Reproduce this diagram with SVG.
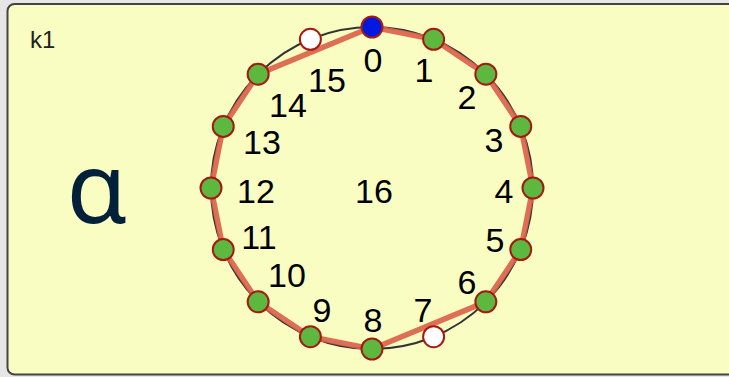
<svg xmlns="http://www.w3.org/2000/svg" width="729" height="377" viewBox="0 0 729 377">
<style>
.lbl{font-family:"Liberation Sans",Arial,sans-serif;font-size:34px;fill:#000;text-anchor:middle}
.pt{stroke:#a31a12;stroke-width:2}
.g{fill:#5cb83e}
.w{fill:#ffffff}
.b{fill:#0018e0}
</style>
<rect x="0" y="0" width="729" height="377" fill="#e6e6e6"/>
<rect id="frame" x="7.5" y="4" width="740" height="370.5" rx="7" fill="#fafdc2" stroke="#444" stroke-width="2"/>
<text id="k1" x="30" y="48" font-family="Liberation Sans,Arial,sans-serif" font-size="24" fill="#222">k1</text>
<text id="alpha" x="97" y="223" font-family="'Noto Sans','Open Sans',sans-serif" font-size="98" fill="#03203a" text-anchor="middle">α</text>
<g id="connectors">
<circle cx="372" cy="188" r="161" fill="none" stroke="#333" stroke-width="2"/>
<polygon points="372,27 433.61,39.26 485.84,74.16 520.74,126.39 533,188 520.74,249.61 485.84,301.84 372,349 310.39,336.74 258.16,301.84 223.26,249.61 211,188 223.26,126.39 258.16,74.16" fill="none" stroke="#dc5f48" stroke-opacity="0.9" stroke-width="5.5" stroke-linejoin="round"/>
</g>
<g id="n0"><circle class="pt b" cx="372" cy="27" r="10.5"/><text class="lbl" x="373" y="72">0</text></g>
<g id="n1"><circle class="pt g" cx="433.61" cy="39.26" r="10.5"/><text class="lbl" x="424" y="82">1</text></g>
<g id="n2"><circle class="pt g" cx="485.84" cy="74.16" r="10.5"/><text class="lbl" x="467" y="109">2</text></g>
<g id="n3"><circle class="pt g" cx="520.74" cy="126.39" r="10.5"/><text class="lbl" x="494" y="152">3</text></g>
<g id="n4"><circle class="pt g" cx="533" cy="188" r="10.5"/><text class="lbl" x="504" y="203">4</text></g>
<g id="n5"><circle class="pt g" cx="520.74" cy="249.61" r="10.5"/><text class="lbl" x="495" y="252">5</text></g>
<g id="n6"><circle class="pt g" cx="485.84" cy="301.84" r="10.5"/><text class="lbl" x="467" y="294">6</text></g>
<g id="n7"><circle class="pt w" cx="433.61" cy="336.74" r="10.5"/><text class="lbl" x="423" y="322">7</text></g>
<g id="n8"><circle class="pt g" cx="372" cy="349" r="10.5"/><text class="lbl" x="373" y="332">8</text></g>
<g id="n9"><circle class="pt g" cx="310.39" cy="336.74" r="10.5"/><text class="lbl" x="322" y="322">9</text></g>
<g id="n10"><circle class="pt g" cx="258.16" cy="301.84" r="10.5"/><text class="lbl" x="287" y="287">10</text></g>
<g id="n11"><circle class="pt g" cx="223.26" cy="249.61" r="10.5"/><text class="lbl" x="259" y="249">11</text></g>
<g id="n12"><circle class="pt g" cx="211" cy="188" r="10.5"/><text class="lbl" x="256" y="203">12</text></g>
<g id="n13"><circle class="pt g" cx="223.26" cy="126.39" r="10.5"/><text class="lbl" x="262" y="154">13</text></g>
<g id="n14"><circle class="pt g" cx="258.16" cy="74.16" r="10.5"/><text class="lbl" x="288" y="117">14</text></g>
<g id="n15"><circle class="pt w" cx="310.39" cy="39.26" r="10.5"/><text class="lbl" x="327" y="92">15</text></g>
<g id="n16"><text class="lbl" x="374" y="203">16</text></g>
</svg>
